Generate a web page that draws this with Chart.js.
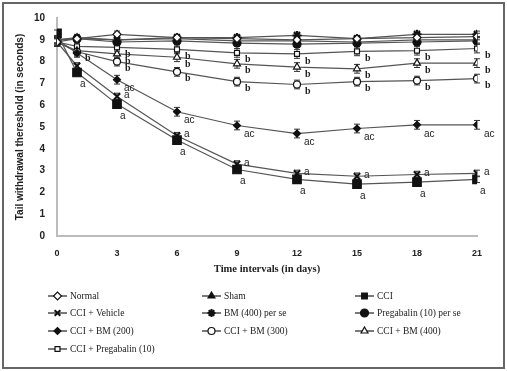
<!DOCTYPE html>
<html>
<head>
<meta charset="utf-8">
<script src="https://cdn.jsdelivr.net/npm/chart.js@4"></script>
<style>
  html, body { margin: 0; padding: 0; background: #fff; }
  #wrap { width: 507px; height: 371px; }
</style>
</head>
<body>
<div id="wrap"><canvas id="chart" width="507" height="371"></canvas></div>
<script>
/* Tail withdrawal threshold over 21 days */

const days = [0, 1, 3, 6, 9, 12, 15, 18, 21];
const xTicks = [0, 3, 6, 9, 12, 15, 18, 21];

const normal     = [8.9, 9.05, 9.25, 9.1, 9.05, 9.0, 9.05, 9.1, 9.15];
const sham       = [9.0, 9.1, 9.0, 9.05, 8.95, 8.95, 8.9, 9.0, 9.0];
const cci        = [9.3, 7.5, 6.05, 4.4, 3.05, 2.6, 2.38, 2.47, 2.6];
const cciVehicle = [8.9, 7.8, 6.4, 4.6, 3.3, 2.87, 2.74, 2.82, 2.87];
const bm400PerSe = [9.0, 9.05, 9.0, 9.1, 9.1, 9.2, 9.05, 9.25, 9.25];
const pregPerSe  = [9.0, 9.05, 8.9, 8.95, 8.85, 8.8, 8.85, 8.9, 8.95];
const cciBm200   = [9.0, 8.4, 7.17, 5.7, 5.07, 4.7, 4.93, 5.1, 5.1];
const cciBm300   = [8.9, 8.45, 8.0, 7.53, 7.08, 6.95, 7.08, 7.13, 7.22];
const cciBm400   = [8.9, 8.5, 8.35, 8.2, 7.9, 7.75, 7.67, 7.93, 7.93];
const cciPreg10  = [8.9, 8.7, 8.65, 8.56, 8.4, 8.35, 8.47, 8.5, 8.6];

/* SEM (whiskers) */
const semSmall = [0.15, 0.15, 0.15, 0.15, 0.15, 0.15, 0.15, 0.15, 0.15];
const semMid   = [0.2, 0.2, 0.2, 0.2, 0.2, 0.2, 0.2, 0.2, 0.2];

/* significance letters */
const letA   = ['', 'a', 'a', 'a', 'a', 'a', 'a', 'a', 'a'];
const letA2  = ['', '', 'a', 'a', 'a', 'a', 'a', 'a', 'a'];
const letAC  = ['', '', 'ac', 'ac', 'ac', 'ac', 'ac', 'ac', 'ac'];
const letB   = ['', '', 'b', 'b', 'b', 'b', 'b', 'b', 'b'];
const letB1  = ['', 'b', 'b', 'b', 'b', 'b', 'b', 'b', 'b'];
const none   = ['', '', '', '', '', '', '', '', ''];

function series(label, values, style, fill, radius, sem, letters, letterPos) {
  return {
    label: label,
    data: values.map((v, i) => ({ x: days[i], y: v })),
    borderColor: '#555',
    borderWidth: 1.2,
    pointStyle: style,
    pointRadius: radius,
    pointBorderColor: '#111',
    pointBackgroundColor: fill ? '#111' : '#fff',
    pointBorderWidth: style === 'crossRot' || style === 'star' ? 2 : 1.2,
    sem: sem,
    letters: letters,
    letterPos: letterPos,
    tension: 0
  };
}

const datasets = [
  series('Normal', normal, 'rectRot', false, 4, semSmall, none, 'br'),
  series('Sham', sham, 'triangle', true, 4, semSmall, none, 'br'),
  series('CCI', cci, 'rect', true, 6, semSmall, letA, 'below'),
  series('CCI + Vehicle', cciVehicle, 'crossRot', true, 4.5, semSmall, letA2, 'right'),
  series('BM (400) per se', bm400PerSe, 'star', true, 4.5, semSmall, none, 'br'),
  series('Pregabalin (10) per se', pregPerSe, 'circle', true, 4, semSmall, none, 'br'),
  series('CCI + BM (200)', cciBm200, 'rectRot', true, 3.5, semMid, letAC, 'acpos'),
  series('CCI + BM (300)', cciBm300, 'circle', false, 3.5, semMid, letB1, 'bpos'),
  series('CCI + BM (400)', cciBm400, 'triangle', false, 4, semMid, letB, 'bpos'),
  series('CCI + Pregabalin (10)', cciPreg10, 'rect', false, 3.5, semMid, letB, 'bpos')
];

const frame = {
  id: 'frame',
  beforeDraw(chart) {
    const ctx = chart.ctx;
    ctx.save();
    ctx.fillStyle = '#fff';
    ctx.fillRect(0, 0, chart.width, chart.height);
    ctx.strokeStyle = '#666';
    ctx.lineWidth = 2;
    ctx.strokeRect(3, 3, chart.width - 6, chart.height - 6);
    ctx.restore();
  }
};

const whiskers = {
  id: 'whiskers',
  beforeDatasetsDraw(chart) {
    const ctx = chart.ctx;
    const ys = chart.scales.y;
    ctx.save();
    ctx.strokeStyle = '#333';
    ctx.lineWidth = 1;
    chart.data.datasets.forEach((ds, di) => {
      const meta = chart.getDatasetMeta(di);
      meta.data.forEach((pt, i) => {
        const v = ds.data[i].y, e = ds.sem[i];
        const y1 = ys.getPixelForValue(v - e), y2 = ys.getPixelForValue(v + e);
        ctx.beginPath();
        ctx.moveTo(pt.x, y1); ctx.lineTo(pt.x, y2);
        ctx.moveTo(pt.x - 3, y1); ctx.lineTo(pt.x + 3, y1);
        ctx.moveTo(pt.x - 3, y2); ctx.lineTo(pt.x + 3, y2);
        ctx.stroke();
      });
    });
    ctx.restore();
  }
};

const letters = {
  id: 'letters',
  afterDatasetsDraw(chart) {
    const ctx = chart.ctx;
    ctx.save();
    ctx.fillStyle = '#222';
    ctx.textBaseline = 'middle';
    ctx.textAlign = 'left';
    chart.data.datasets.forEach((ds, di) => {
      const meta = chart.getDatasetMeta(di);
      meta.data.forEach((pt, i) => {
        const t = ds.letters[i];
        if (!t) return;
        let dx = 8, dy = 7;
        if (ds.letterPos === 'below') { dx = 3; dy = 12; }
        if (ds.letterPos === 'right') { dx = 7; dy = -1; }
        if (ds.letterPos === 'acpos') { dx = 7; dy = 9; }
        if (t === 'b') ctx.font = 'bold 10px "Liberation Serif"';
        else ctx.font = '10px "Liberation Sans"';
        ctx.fillText(t, pt.x + dx, pt.y + dy);
      });
    });
    ctx.restore();
  }
};

const gridLegend = {
  id: 'gridLegend',
  afterDraw(chart) {
    const ctx = chart.ctx;
    const colX = [48, 202, 355];
    const rowY = [296, 313, 331, 349];
    ctx.save();
    ctx.font = '9.5px "Liberation Serif"';
    ctx.textBaseline = 'middle';
    ctx.textAlign = 'left';
    chart.data.datasets.forEach((ds, i) => {
      const x = colX[i % 3], y = rowY[Math.floor(i / 3)];
      ctx.strokeStyle = '#222';
      ctx.lineWidth = 1.2;
      ctx.beginPath();
      ctx.moveTo(x, y); ctx.lineTo(x + 19, y);
      ctx.stroke();
      ctx.fillStyle = ds.pointBackgroundColor;
      ctx.strokeStyle = '#111';
      ctx.lineWidth = ds.pointBorderWidth;
      Chart.helpers.drawPoint(ctx, {
        pointStyle: ds.pointStyle,
        radius: Math.min(ds.pointRadius, 4),
        rotation: 0,
        borderWidth: ds.pointBorderWidth
      }, x + 9.5, y);
      ctx.fillStyle = '#222';
      ctx.fillText(ds.label, x + 22, y);
    });
    ctx.restore();
  }
};

new Chart(document.getElementById('chart'), {
  type: 'line',
  data: { datasets: datasets },
  options: {
    responsive: false,
    animation: false,
    devicePixelRatio: 1,
    layout: { padding: { left: 10, right: 30, top: 13, bottom: 91 } },
    plugins: {
      legend: { display: false },
      tooltip: { enabled: false }
    },
    scales: {
      x: {
        type: 'linear',
        min: 0,
        max: 21,
        afterBuildTicks: s => { s.ticks = xTicks.map(v => ({ value: v })); },
        afterFit: s => { s.height = 44; },
        grid: { display: false, drawTicks: false },
        border: { color: '#bbb', width: 2 },
        ticks: {
          color: '#222',
          padding: 12,
          font: { family: 'Liberation Sans', size: 9, weight: 'bold' }
        },
        title: {
          display: true,
          text: 'Time intervals (in days)',
          color: '#222',
          padding: { top: 9 },
          font: { family: 'Liberation Serif', size: 10.5, weight: 'bold' }
        }
      },
      y: {
        min: 0,
        max: 10,
        afterFit: s => { s.width = 47; },
        grid: { display: false, drawTicks: false },
        border: { color: '#bbb', width: 2 },
        ticks: {
          stepSize: 1,
          color: '#222',
          padding: 12,
          font: { family: 'Liberation Sans', size: 10, weight: 'bold' }
        },
        title: {
          display: true,
          text: 'Tail withdrawal thereshold (in seconds)',
          color: '#222',
          padding: { bottom: 4 },
          font: { family: 'Liberation Sans', size: 10, weight: 'bold' }
        }
      }
    }
  },
  plugins: [frame, whiskers, letters, gridLegend]
});
</script>
</body>
</html>
